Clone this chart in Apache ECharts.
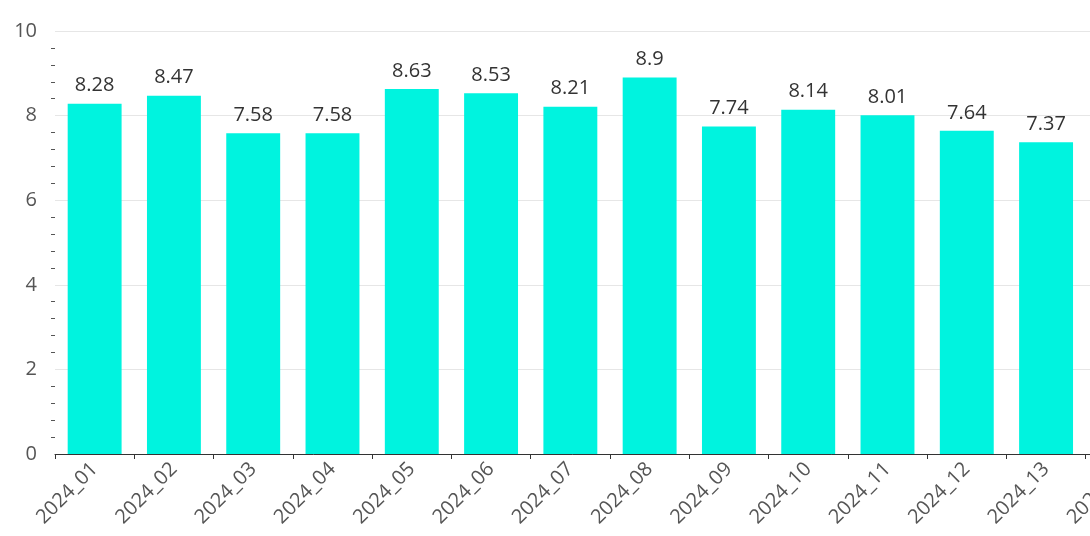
<!DOCTYPE html>
<html>
<head>
<meta charset="utf-8">
<script src="https://cdn.jsdelivr.net/npm/echarts@6/dist/echarts.min.js"></script>
<style>
  html, body { margin: 0; padding: 0; background: #fff; }
  #grafico { width: 1090px; height: 536px; }
</style>
</head>
<body>
<div id="grafico"></div>
<script>
// categorias (la 14 queda cortada por el borde derecho)
var periodos = ['2024_01', '2024_02', '2024_03', '2024_04', '2024_05', '2024_06', '2024_07',
    '2024_08', '2024_09', '2024_10', '2024_11', '2024_12', '2024_13', '2024_14'];
var valores = [8.28, 8.47, 7.58, 7.58, 8.63, 8.53, 8.21, 8.9, 7.74, 8.14, 8.01, 7.64, 7.37, null];

var grafico = echarts.init(document.getElementById('grafico'));

var opciones = {
    animation: false,
    grid: { left: 55, width: 1110, top: 31, bottom: 82, containLabel: false, outerBoundsMode: 'none' },
    xAxis: {
        type: 'category',
        data: periodos,
        axisLine: { lineStyle: { color: '#333', width: 1 } },
        axisTick: { show: true, lineStyle: { color: '#333' } },
        axisLabel: { rotate: 45, interval: 0, color: '#555', fontSize: 20, margin: 12,
            fontFamily: 'Open Sans' }
    },
    yAxis: {
        type: 'value',
        min: 0,
        max: 10,
        interval: 2,
        axisLine: { show: false },
        axisTick: { show: false },
        minorTick: { show: true, splitNumber: 5, length: 4, lineStyle: { color: '#555' } },
        splitLine: { lineStyle: { color: '#e6e6e6' } },
        axisLabel: { color: '#555', fontSize: 20, margin: 18, fontFamily: 'Open Sans' }
    },
    series: [{
        type: 'bar',
        data: valores,
        barCategoryGap: '32%',
        itemStyle: { color: '#00f3df' },
        label: { show: true, position: 'top', color: '#333', fontSize: 20, distance: 8,
            fontFamily: 'Open Sans' }
    }]
};

grafico.setOption(opciones);
</script>
</body>
</html>
